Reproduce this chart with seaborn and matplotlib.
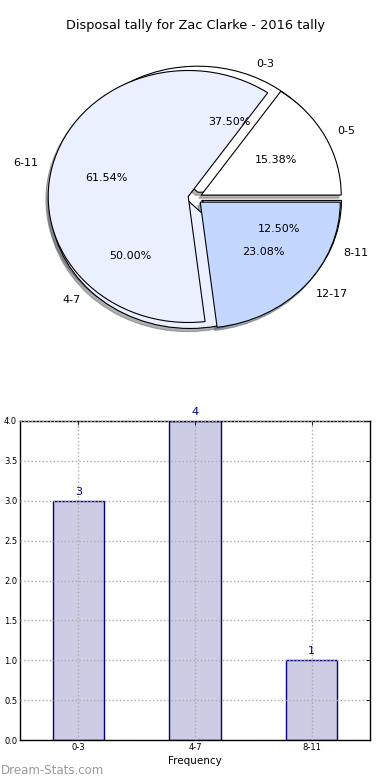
import matplotlib
matplotlib.use("Agg")
import matplotlib.pyplot as plt
import seaborn as sns
import numpy as np

# Data
bins_a = ["0-3", "4-7", "8-11"]
counts_a = [3, 4, 1]
bins_b = ["0-5", "6-11", "12-17"]
counts_b = [2, 8, 3]
title = "Disposal tally for Zac Clarke - 2016 tally"
pie_colors = ["#ffffff", "#eaf0ff", "#c4d8ff"]
bar_color = "#ccccE5"

sns.set_theme(style="white")
plt.rcParams['font.family'] = ['DejaVu Sans']
plt.rcParams['text.color'] = 'black'
plt.rcParams['axes.labelcolor'] = 'black'
plt.rcParams['xtick.color'] = 'black'
plt.rcParams['ytick.color'] = 'black'

fig = plt.figure(figsize=(3.9, 7.8), dpi=100)
ax1 = fig.add_axes([20/390, 1-355.5/780, 350/390, 315/780])
ax2 = fig.add_axes([20/390, 40/780, 350/390, 319/780])

explode = [0.05, 0.05, 0.05]
shadow = dict(ox=-0.012, oy=-0.018, shade=0.6)
ax1.pie(counts_a, labels=bins_a, colors=pie_colors, explode=explode,
        autopct="%1.2f%%", shadow=shadow, startangle=0,
        wedgeprops=dict(edgecolor="black", linewidth=0.8),
        textprops=dict(fontsize=8, color="black"))
ax1.pie(counts_b, labels=bins_b, colors=pie_colors, explode=explode,
        autopct="%1.2f%%", shadow=shadow, startangle=0,
        wedgeprops=dict(edgecolor="black", linewidth=0.8),
        textprops=dict(fontsize=8, color="black"))
ax1.set_aspect("auto")
ax1.set_xlim(-1.25, 1.25)
ax1.set_ylim(-1.25, 1.25)
ax1.set_title(title, fontsize=9.3, pad=8, color="black")

sns.barplot(x=bins_a, y=counts_a, color=bar_color, saturation=1,
            edgecolor="navy", linewidth=1.0, width=0.44, ax=ax2)
ax2.set_xlim(-0.5, 2.5)
ax2.set_ylim(0, 4.0)
ax2.set_yticks(np.arange(0, 4.01, 0.5))
ax2.set_yticklabels([f"{v:.1f}" for v in np.arange(0, 4.01, 0.5)])
ax2.grid(True, linestyle=":", color="#aaaaaa", linewidth=1.0)
ax2.set_axisbelow(False)
for s in ax2.spines.values():
    s.set_color("black")
    s.set_linewidth(1.0)
ax2.tick_params(axis="both", labelsize=6, direction="in", top=True, right=True,
                length=3, width=0.6, pad=2, colors="black")
ax2.set_xlabel("Frequency", fontsize=7.5, labelpad=3)
ax2.set_ylabel("")
for i, v in enumerate(counts_a):
    ax2.text(i, v + 0.05, str(v), ha="center", va="bottom", color="navy", fontsize=8)

fig.text(0.003, 0.004, "Dream-Stats.com", color="#999999", fontsize=8.5, ha="left", va="bottom")

fig.savefig("out.png", dpi=100, facecolor="white")
